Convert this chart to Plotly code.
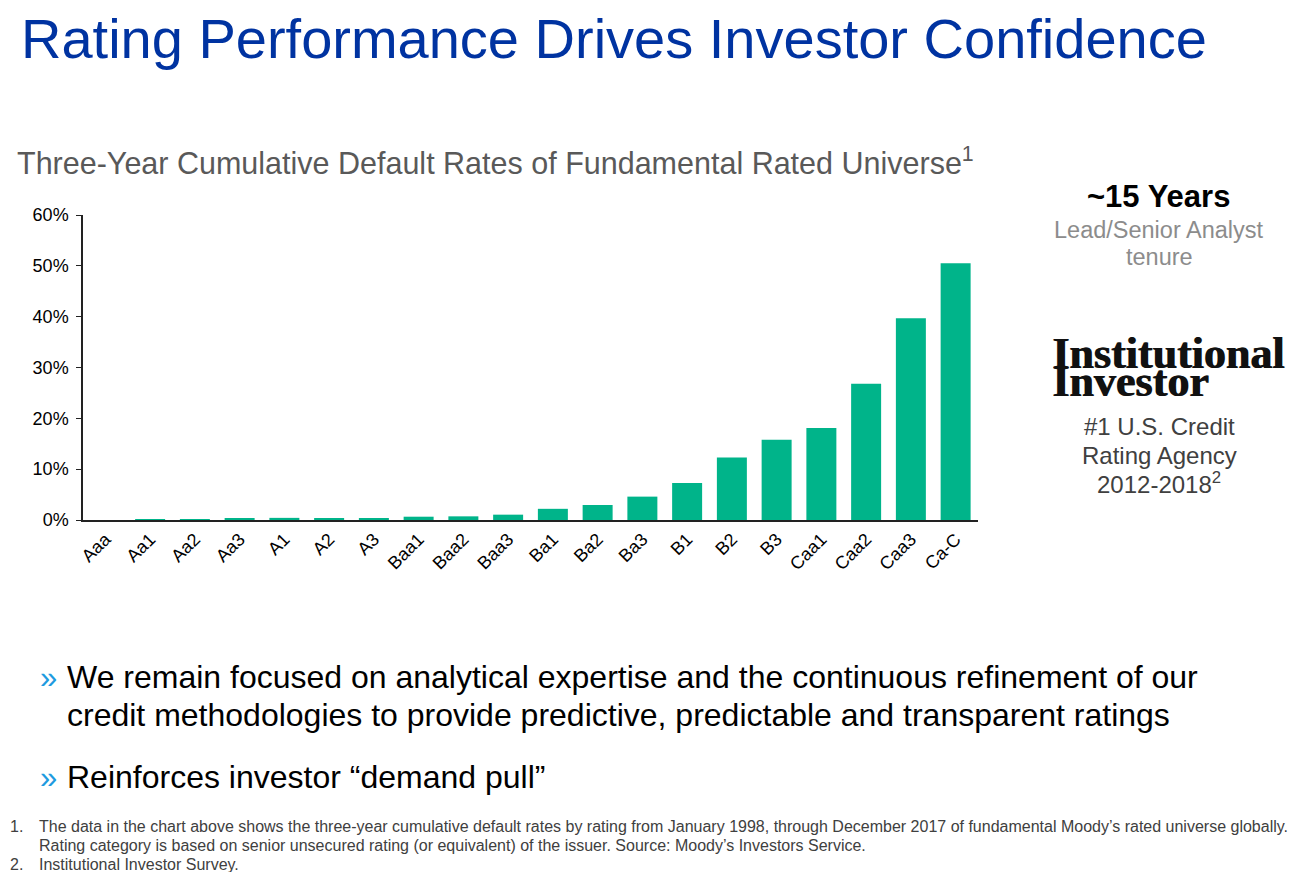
import plotly.graph_objects as go

ratings = ["Aaa", "Aa1", "Aa2", "Aa3", "A1", "A2", "A3", "Baa1", "Baa2", "Baa3",
           "Ba1", "Ba2", "Ba3", "B1", "B2", "B3", "Caa1", "Caa2", "Caa3", "Ca-C"]
default_rates = [0.0, 0.03, 0.08, 0.2, 0.42, 0.4, 0.4, 0.65, 0.72, 1.05,
                 2.2, 2.95, 4.6, 7.3, 12.3, 15.8, 18.1, 26.8, 39.7, 50.5]
y_ticks = [0, 10, 20, 30, 40, 50, 60]
y_tick_labels = ["0%", "10%", "20%", "30%", "40%", "50%", "60%"]

OFF = 8               # page body margin
W, H = 1303 - OFF, 872 - OFF
X0, X1 = 83 - OFF, 978 - OFF      # plot area pixel bounds (figure coords)
Y0, Y1 = 215 - OFF, 520 - OFF

def px(x):
    return (x - OFF - X0) / (X1 - X0)

def py(y):
    return (Y1 - (y - OFF)) / (Y1 - Y0)

FONT = "Arial, Liberation Sans, sans-serif"

fig = go.Figure()
fig.add_trace(go.Bar(
    x=ratings, y=default_rates,
    marker=dict(color="#00B48A", line=dict(width=0)),
    hoverinfo="x+y",
))

anns = []

def txt(text, x, y, size, color, xanchor="left", bold=False, family=FONT, shadow=None):
    if bold:
        text = "<b>" + text + "</b>"
    f = dict(size=size, color=color, family=family)
    if shadow:
        f["shadow"] = shadow
    anns.append(dict(text=text, x=px(x), y=py(y), xref="paper", yref="paper",
                     xanchor=xanchor, yanchor="middle", showarrow=False,
                     font=f))

txt("Rating Performance Drives Investor Confidence", 19, 38, 56, "#0033A1")
txt("Three-Year Cumulative Default Rates of Fundamental Rated Universe<sup>1</sup>", 15, 161, 30.5, "#595959")

txt("~15 Years", 1158, 196, 31, "#000000", xanchor="center", bold=True)
txt("Lead/Senior Analyst", 1159, 230, 23.5, "#8C8C8C", xanchor="center")
txt("tenure", 1159, 257, 23.5, "#8C8C8C", xanchor="center")

LOGO = "Liberation Serif, DejaVu Serif, serif"
txt("Institutional", 1050, 353, 44, "#111111", bold=True, family=LOGO,
    shadow="1px 0px 0px #111111")
txt("Investor", 1050, 381, 44, "#111111", bold=True, family=LOGO,
    shadow="1px 0px 0px #111111")

txt("#1 U.S. Credit", 1159, 426, 24, "#404040", xanchor="center")
txt("Rating Agency", 1159, 455, 24, "#404040", xanchor="center")
txt("2012-2018<sup>2</sup>", 1159, 483, 24, "#404040", xanchor="center")

txt("»", 38, 677, 31, "#1E9BE0")
txt("We remain focused on analytical expertise and the continuous refinement of our", 65, 677, 32, "#000000")
txt("credit methodologies to provide predictive, predictable and transparent ratings", 65, 715, 32, "#000000")
txt("»", 38, 777, 31, "#1E9BE0")
txt("Reinforces investor \u201cdemand pull\u201d", 65, 777, 32, "#000000")

txt("1.", 8, 826, 16, "#404040")
txt("The data in the chart above shows the three-year cumulative default rates by rating from January 1998, through December 2017 of fundamental Moody\u2019s rated universe globally.", 37, 826, 16, "#404040")
txt("Rating category is based on senior unsecured rating (or equivalent) of the issuer. Source: Moody\u2019s Investors Service.", 37, 845, 16, "#404040")
txt("2.", 8, 864, 16, "#404040")
txt("Institutional Investor Survey.", 37, 864, 16, "#404040")

fig.update_layout(
    width=W, height=H,
    margin=dict(l=X0, r=W - X1, t=Y0, b=H - Y1, pad=0),
    paper_bgcolor="white", plot_bgcolor="white",
    showlegend=False,
    bargap=0.33,
    font=dict(family=FONT, color="#000000"),
    annotations=anns,
    xaxis=dict(
        tickangle=-45, tickfont=dict(size=18, color="#000000"),
        showline=True, linecolor="#222222", linewidth=1.5,
        showgrid=False, ticks="", zeroline=False,
    ),
    yaxis=dict(
        range=[0, 60], tickvals=y_ticks, ticktext=y_tick_labels,
        tickfont=dict(size=18, color="#000000"),
        showline=True, linecolor="#222222", linewidth=1.5,
        ticks="outside", ticklen=5, tickcolor="#222222",
        ticklabelstandoff=4,
        showgrid=False, zeroline=False,
    ),
)

fig.write_html("out.html")
